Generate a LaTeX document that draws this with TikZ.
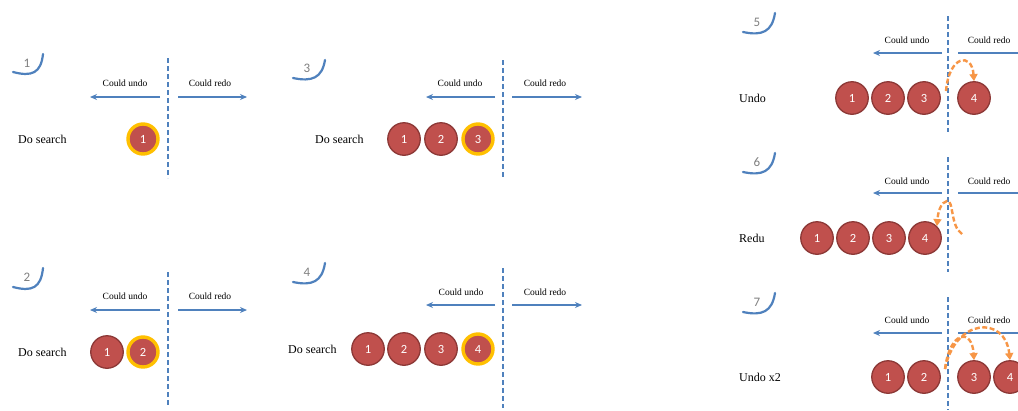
\documentclass[tikz,border=0pt]{standalone}
\usepackage{fontspec}
\setmainfont{Liberation Serif}
\newfontfamily\calfont{Carlito}
\usetikzlibrary{arrows.meta}
\definecolor{cred}{HTML}{C0504D}
\definecolor{cbord}{HTML}{8C3836}
\definecolor{cyel}{HTML}{FFC000}
\definecolor{cblue}{HTML}{4F81BD}
\definecolor{corange}{HTML}{F79646}
\definecolor{cgray}{HTML}{7F7F7F}
\tikzset{
  circ/.style={circle,fill=cred,draw=cbord,line width=1.3pt,minimum size=32.5pt,inner sep=0pt,text=white,font=\calfont\fontsize{12.5}{14}\selectfont},
  circsel/.style={circle,fill=cred,draw=cyel,line width=3.4pt,minimum size=30pt,inner sep=0pt,text=white,font=\calfont\fontsize{12.5}{14}\selectfont},
  hook/.style={draw=cblue,line width=2.2pt,line cap=round},
  hooknum/.style={text=cgray,font=\calfont\fontsize{13}{15}\selectfont,inner sep=0pt},
  sep/.style={draw=cblue,line width=1.8pt,dash pattern=on 5pt off 3pt},
  dirarrow/.style={draw=cblue,line width=1.3pt,-{Stealth[length=7pt,width=6pt]}},
  small/.style={font=\fontsize{9.5}{11}\selectfont,inner sep=0pt},
  action/.style={font=\fontsize{12}{14}\selectfont,inner sep=0pt,anchor=west},
  move/.style={draw=corange,line width=2.4pt,dash pattern=on 5pt off 2.5pt,-{Triangle[length=7pt,width=8pt]}}
}
\begin{document}
\begin{tikzpicture}[x=1pt,y=-1pt]
\useasboundingbox[fill=white] (0,0) rectangle (1018,410);

% ===== Panel 1 =====
\draw[hook] (13,72) .. controls (32,77) and (41,73) .. (43,54);
\node[hooknum] (n1) at (27,63) {1};
\coordinate (s1a) at (168,58); \coordinate (s1b) at (168,178);
\draw[sep] (s1a) -- (s1b);
\coordinate (l1a) at (160,97); \coordinate (l1b) at (90,97);
\coordinate (r1a) at (178,97); \coordinate (r1b) at (247,97);
\draw[dirarrow] (l1a) -- (l1b);
\draw[dirarrow] (r1a) -- (r1b);
\node[small] (u1) at (125,83) {Could undo};
\node[small] (d1) at (210,83) {Could redo};
\node[action] (a1) at (18,139) {Do search};
\node[circsel] (p1c1) at (143,139) {1};

% ===== Panel 2 =====
\draw[hook] (13,287) .. controls (32,292) and (41,288) .. (43,268);
\node[hooknum] (n2) at (27,277) {2};
\coordinate (s2a) at (168,272); \coordinate (s2b) at (168,405);
\draw[sep] (s2a) -- (s2b);
\coordinate (l2a) at (160,310); \coordinate (l2b) at (90,310);
\coordinate (r2a) at (178,310); \coordinate (r2b) at (247,310);
\draw[dirarrow] (l2a) -- (l2b);
\draw[dirarrow] (r2a) -- (r2b);
\node[small] (u2) at (125,296) {Could undo};
\node[small] (d2) at (210,296) {Could redo};
\node[action] (a2) at (18,352) {Do search};
\node[circ] (p2c1) at (107,352) {1};
\node[circsel] (p2c2) at (143,352) {2};

% ===== Panel 3 =====
\draw[hook] (293,78) .. controls (312,82) and (322,78) .. (325,60);
\node[hooknum] (n3) at (307,68) {3};
\coordinate (s3a) at (503,60); \coordinate (s3b) at (503,178);
\draw[sep] (s3a) -- (s3b);
\coordinate (l3a) at (495,97); \coordinate (l3b) at (426,97);
\coordinate (r3a) at (512,97); \coordinate (r3b) at (582,97);
\draw[dirarrow] (l3a) -- (l3b);
\draw[dirarrow] (r3a) -- (r3b);
\node[small] (u3) at (460,83) {Could undo};
\node[small] (d3) at (545,83) {Could redo};
\node[action] (a3) at (315,139) {Do search};
\node[circ] (p3c1) at (404,139) {1};
\node[circ] (p3c2) at (441,139) {2};
\node[circsel] (p3c3) at (478,139) {3};

% ===== Panel 4 =====
\draw[hook] (293,282) .. controls (312,286) and (322,282) .. (325,263);
\node[hooknum] (n4) at (307,272) {4};
\coordinate (s4a) at (503,268); \coordinate (s4b) at (503,408);
\draw[sep] (s4a) -- (s4b);
\coordinate (l4a) at (495,305); \coordinate (l4b) at (426,305);
\coordinate (r4a) at (512,305); \coordinate (r4b) at (582,305);
\draw[dirarrow] (l4a) -- (l4b);
\draw[dirarrow] (r4a) -- (r4b);
\node[small] (u4) at (461,292) {Could undo};
\node[small] (d4) at (545,292) {Could redo};
\node[action] (a4) at (288,349) {Do search};
\node[circ] (p4c1) at (368,349) {1};
\node[circ] (p4c2) at (404,349) {2};
\node[circ] (p4c3) at (441,349) {3};
\node[circsel] (p4c4) at (478,349) {4};

% ===== Panel 5 =====
\draw[hook] (743,32) .. controls (762,36) and (772,32) .. (775,13);
\node[hooknum] (n5) at (757,22) {5};
\coordinate (s5a) at (948,16); \coordinate (s5b) at (948,132);
\draw[sep] (s5a) -- (s5b);
\coordinate (l5a) at (942,53); \coordinate (l5b) at (873,53);
\coordinate (r5a) at (958,53); \coordinate (r5b) at (1030,53);
\draw[dirarrow] (l5a) -- (l5b);
\draw[dirarrow] (r5a) -- (r5b);
\node[small] (u5) at (907,40) {Could undo};
\node[small] (d5) at (989,40) {Could redo};
\node[action] (a5) at (739,98) {Undo};
\node[circ] (p5c1) at (852,98) {1};
\node[circ] (p5c2) at (888,98) {2};
\node[circ] (p5c3) at (924,98) {3};
\node[circ] (p5c4) at (974,98) {4};
\coordinate (m5) at (946,91);
\draw[move] (m5) .. controls (949,55) and (972,52) .. (p5c4.north);

% ===== Panel 6 =====
\draw[hook] (743,172) .. controls (762,176) and (772,172) .. (775,153);
\node[hooknum] (n6) at (757,162) {6};
\coordinate (s6a) at (948,157); \coordinate (s6b) at (948,272);
\draw[sep] (s6a) -- (s6b);
\coordinate (l6a) at (942,193); \coordinate (l6b) at (873,193);
\coordinate (r6a) at (958,193); \coordinate (r6b) at (1030,193);
\draw[dirarrow] (l6a) -- (l6b);
\draw[dirarrow] (r6a) -- (r6b);
\node[small] (u6) at (907,181) {Could undo};
\node[small] (d6) at (989,181) {Could redo};
\node[action] (a6) at (739,238) {Redu};
\node[circ] (p6c1) at (817,238) {1};
\node[circ] (p6c2) at (853,238) {2};
\node[circ] (p6c3) at (889,238) {3};
\node[circ] (p6c4) at (925,238) {4};
\coordinate (m6) at (962,234);
\draw[move] (m6) .. controls (950,226) and (954,200) .. (947,201) .. controls (941,202) and (938,212) .. (p6c4.north east);

% ===== Panel 7 =====
\draw[hook] (743,312) .. controls (762,316) and (772,312) .. (775,293);
\node[hooknum] (n7) at (757,302) {7};
\coordinate (s7a) at (948,297); \coordinate (s7b) at (948,410);
\draw[sep] (s7a) -- (s7b);
\coordinate (l7a) at (942,333); \coordinate (l7b) at (873,333);
\coordinate (r7a) at (958,333); \coordinate (r7b) at (1030,333);
\draw[dirarrow] (l7a) -- (l7b);
\draw[dirarrow] (r7a) -- (r7b);
\node[small] (u7) at (907,320) {Could undo};
\node[small] (d7) at (989,320) {Could redo};
\node[action] (a7) at (739,377) {Undo x2};
\node[circ] (p7c1) at (888,377) {1};
\node[circ] (p7c2) at (924,377) {2};
\node[circ] (p7c3) at (974,377) {3};
\node[circ] (p7c4) at (1010,377) {4};
\coordinate (m7) at (945,369);
\draw[move] (m7) .. controls (950,330) and (972,328) .. (p7c3.north);
\draw[move] (m7) .. controls (955,318) and (1005,315) .. (p7c4.north);
\end{tikzpicture}
\end{document}
